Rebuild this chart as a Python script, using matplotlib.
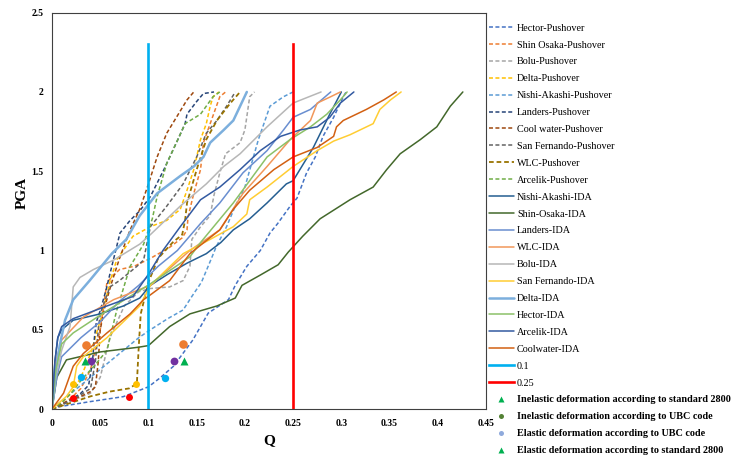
import numpy as np
import matplotlib
matplotlib.use("Agg")
import matplotlib.pyplot as plt
from matplotlib.lines import Line2D

plt.rcParams['font.family'] = ['Liberation Serif', 'DejaVu Serif']

# ---------------- data ----------------
hector_po_q   = [0, 0.008, 0.039, 0.074, 0.10, 0.112, 0.126, 0.146, 0.162, 0.183, 0.19, 0.202, 0.216, 0.226, 0.234, 0.247, 0.254, 0.264, 0.273, 0.281, 0.292, 0.302, 0.305]
hector_po_pga = [0, 0.015, 0.046, 0.078, 0.14, 0.196, 0.27, 0.435, 0.605, 0.69, 0.78, 0.90, 1.0, 1.11, 1.17, 1.28, 1.33, 1.49, 1.59, 1.72, 1.84, 1.97, 2.0]

shinosaka_po_q   = [0, 0.01, 0.02, 0.03, 0.04, 0.05, 0.057, 0.07, 0.085, 0.102, 0.122, 0.135, 0.14, 0.141, 0.147, 0.154, 0.157, 0.164, 0.174, 0.18]
shinosaka_po_pga = [0, 0.03, 0.07, 0.13, 0.25, 0.5, 0.8, 0.88, 0.9, 0.95, 1.02, 1.08, 1.13, 1.21, 1.36, 1.51, 1.68, 1.80, 1.97, 2.0]

bolu_po_q   = [0, 0.02, 0.04, 0.05, 0.06, 0.075, 0.09, 0.102, 0.122, 0.136, 0.143, 0.145, 0.154, 0.164, 0.168, 0.174, 0.18, 0.195, 0.2, 0.205, 0.21]
bolu_po_pga = [0, 0.05, 0.1, 0.2, 0.45, 0.65, 0.74, 0.76, 0.77, 0.81, 0.9, 1.07, 1.15, 1.22, 1.35, 1.49, 1.61, 1.68, 1.76, 1.97, 2.0]

delta_po_q   = [0, 0.01, 0.02, 0.03, 0.04, 0.053, 0.06, 0.067, 0.084, 0.102, 0.119, 0.133, 0.14, 0.147, 0.15, 0.154, 0.16, 0.164, 0.167, 0.173]
delta_po_pga = [0, 0.04, 0.1, 0.2, 0.35, 0.62, 0.8, 0.94, 1.09, 1.15, 1.19, 1.26, 1.38, 1.51, 1.59, 1.70, 1.80, 1.91, 1.97, 2.0]

nishi_po_q   = [0, 0.02, 0.04, 0.06, 0.074, 0.09, 0.102, 0.12, 0.136, 0.145, 0.155, 0.166, 0.17, 0.181, 0.19, 0.2, 0.207, 0.214, 0.226, 0.24, 0.25]
nishi_po_pga = [0, 0.1, 0.2, 0.3, 0.37, 0.45, 0.5, 0.57, 0.625, 0.71, 0.8, 0.96, 1.02, 1.15, 1.28, 1.4, 1.55, 1.70, 1.91, 1.97, 2.0]

landers_po_q   = [0, 0.01, 0.02, 0.03, 0.038, 0.042, 0.044, 0.046, 0.05, 0.056, 0.062, 0.0705, 0.081, 0.091, 0.102, 0.116, 0.129, 0.138, 0.14, 0.15, 0.157, 0.168]
landers_po_pga = [0, 0.03, 0.06, 0.1, 0.15, 0.3, 0.45, 0.55, 0.62, 0.75, 0.9, 1.11, 1.19, 1.25, 1.34, 1.51, 1.68, 1.80, 1.86, 1.94, 1.99, 2.0]

coolwater_po_q   = [0, 0.01, 0.02, 0.03, 0.04, 0.045, 0.048, 0.05, 0.055, 0.062, 0.07, 0.081, 0.091, 0.1, 0.109, 0.119, 0.129, 0.14, 0.147]
coolwater_po_pga = [0, 0.03, 0.06, 0.08, 0.11, 0.14, 0.3, 0.5, 0.65, 0.8, 0.95, 1.13, 1.26, 1.42, 1.59, 1.74, 1.84, 1.95, 2.0]

sanfernando_po_q   = [0, 0.015, 0.03, 0.04, 0.045, 0.048, 0.05, 0.06, 0.07, 0.088, 0.095, 0.102, 0.119, 0.136, 0.15, 0.16, 0.171, 0.181, 0.19]
sanfernando_po_pga = [0, 0.04, 0.09, 0.13, 0.3, 0.5, 0.6, 0.77, 0.81, 0.90, 0.94, 1.15, 1.28, 1.42, 1.59, 1.74, 1.82, 1.91, 2.0]

wlc_po_q   = [0, 0.02, 0.04, 0.06, 0.08, 0.088, 0.09, 0.092, 0.1, 0.11, 0.125, 0.135, 0.138, 0.14, 0.15, 0.16, 0.171, 0.185, 0.195]
wlc_po_pga = [0, 0.04, 0.08, 0.11, 0.13, 0.16, 0.4, 0.6, 0.8, 0.95, 1.05, 1.1, 1.19, 1.3, 1.51, 1.70, 1.82, 1.93, 2.0]

arcelik_po_q   = [0, 0.01, 0.02, 0.03, 0.045, 0.057, 0.067, 0.081, 0.095, 0.104, 0.109, 0.119, 0.129, 0.138, 0.154, 0.167, 0.174]
arcelik_po_pga = [0, 0.04, 0.1, 0.18, 0.28, 0.37, 0.62, 0.90, 1.04, 1.2, 1.34, 1.55, 1.68, 1.80, 1.86, 1.97, 2.0]

nishi_ida_q   = [0, 0.003, 0.006, 0.01, 0.022, 0.05, 0.074, 0.091, 0.102, 0.12, 0.14, 0.16, 0.175, 0.188, 0.205, 0.223, 0.243, 0.25, 0.271, 0.288, 0.30]
nishi_ida_pga = [0, 0.3, 0.45, 0.5, 0.56, 0.6, 0.65, 0.7, 0.78, 0.85, 0.92, 0.98, 1.05, 1.13, 1.2, 1.30, 1.42, 1.44, 1.65, 1.86, 2.0]

shinosaka_ida_q   = [0, 0.005, 0.015, 0.05, 0.09, 0.1, 0.122, 0.143, 0.171, 0.19, 0.197, 0.216, 0.2345, 0.245, 0.26, 0.278, 0.309, 0.333, 0.347, 0.361, 0.382, 0.399, 0.413, 0.426]
shinosaka_ida_pga = [0, 0.2, 0.31, 0.36, 0.39, 0.40, 0.52, 0.60, 0.65, 0.70, 0.78, 0.845, 0.91, 0.99, 1.09, 1.2, 1.32, 1.40, 1.51, 1.61, 1.70, 1.78, 1.91, 2.0]

landers_ida_q   = [0, 0.005, 0.01, 0.03, 0.05, 0.07, 0.09, 0.11, 0.13, 0.154, 0.174, 0.198, 0.223, 0.24, 0.25, 0.268, 0.289]
landers_ida_pga = [0, 0.2, 0.33, 0.45, 0.55, 0.68, 0.78, 0.9, 1.0, 1.17, 1.30, 1.49, 1.63, 1.76, 1.84, 1.89, 2.0]

wlc_ida_q   = [0, 0.004, 0.01, 0.0325, 0.064, 0.102, 0.143, 0.174, 0.198, 0.223, 0.247, 0.268, 0.275, 0.289, 0.299]
wlc_ida_pga = [0, 0.3, 0.435, 0.58, 0.69, 0.78, 1.0, 1.13, 1.36, 1.53, 1.70, 1.82, 1.93, 1.97, 2.0]

bolu_ida_q   = [0, 0.004, 0.01, 0.0187, 0.022, 0.029, 0.043, 0.064, 0.091, 0.102, 0.133, 0.16, 0.178, 0.195, 0.223, 0.25, 0.279]
bolu_ida_pga = [0, 0.2, 0.37, 0.52, 0.77, 0.83, 0.88, 0.94, 1.04, 1.1, 1.28, 1.42, 1.53, 1.61, 1.78, 1.93, 2.0]

sanfernando_ida_q   = [0, 0.015, 0.022, 0.0256, 0.0325, 0.057, 0.091, 0.102, 0.136, 0.164, 0.188, 0.202, 0.205, 0.223, 0.25, 0.275, 0.292, 0.309, 0.333, 0.34, 0.351, 0.362]
sanfernando_ida_pga = [0, 0.08, 0.14, 0.27, 0.33, 0.45, 0.65, 0.78, 0.98, 1.07, 1.15, 1.23, 1.32, 1.40, 1.53, 1.63, 1.69, 1.73, 1.80, 1.89, 1.95, 2.0]

delta_ida_q   = [0, 0.004, 0.008, 0.0135, 0.022, 0.039, 0.062, 0.077, 0.091, 0.109, 0.133, 0.147, 0.157, 0.164, 0.178, 0.188, 0.195, 0.202]
delta_ida_pga = [0, 0.25, 0.4, 0.56, 0.69, 0.81, 0.98, 1.07, 1.22, 1.36, 1.47, 1.53, 1.59, 1.68, 1.76, 1.82, 1.91, 2.0]

hector_ida_q   = [0, 0.004, 0.01, 0.022, 0.057, 0.102, 0.143, 0.154, 0.188, 0.223, 0.247, 0.268, 0.285, 0.299, 0.306]
hector_ida_pga = [0, 0.25, 0.41, 0.48, 0.62, 0.79, 0.96, 1.05, 1.30, 1.59, 1.70, 1.78, 1.86, 1.95, 2.0]

arcelik_ida_q   = [0, 0.003, 0.006, 0.01, 0.022, 0.057, 0.084, 0.1, 0.115, 0.133, 0.154, 0.174, 0.195, 0.216, 0.237, 0.257, 0.275, 0.288, 0.299, 0.313]
arcelik_ida_pga = [0, 0.3, 0.45, 0.52, 0.57, 0.65, 0.71, 0.85, 1.0, 1.15, 1.32, 1.40, 1.51, 1.63, 1.72, 1.76, 1.78, 1.84, 1.93, 2.0]

coolwater_ida_q   = [0, 0.012, 0.022, 0.0325, 0.057, 0.081, 0.095, 0.102, 0.122, 0.143, 0.174, 0.188, 0.205, 0.23, 0.25, 0.275, 0.292, 0.295, 0.302, 0.326, 0.344, 0.357]
coolwater_ida_pga = [0, 0.1, 0.27, 0.35, 0.48, 0.6, 0.69, 0.72, 0.81, 0.98, 1.13, 1.26, 1.38, 1.51, 1.59, 1.65, 1.72, 1.78, 1.82, 1.89, 1.95, 2.0]

limit_q = [0.1, 0.25]
limit_labels = ['0.1', '0.25']
limit_top = 2.3

# point markers in plot
orange_pts_q = [0.0353, 0.136]
orange_pts_pga = [0.404, 0.41]
purple_pts_q = [0.040, 0.127]
purple_pts_pga = [0.30, 0.30]
green_tri_q = [0.0346, 0.137]
green_tri_pga = [0.30, 0.30]
cyan_pts_q = [0.0304, 0.117]
cyan_pts_pga = [0.20, 0.196]
yellow_pts_q = [0.022, 0.0868]
yellow_pts_pga = [0.156, 0.156]
red_pts_q = [0.022, 0.0795]
red_pts_pga = [0.071, 0.075]

marker_labels = ['Inelastic deformation according to standard 2800',
                 'Inelastic deformation according to UBC code',
                 'Elastic deformation according to UBC code',
                 'Elastic deformation according to standard 2800']

x_ticks = [0, 0.05, 0.1, 0.15, 0.2, 0.25, 0.3, 0.35, 0.4, 0.45]
x_tick_labels = ['0', '0.05', '0.1', '0.15', '0.2', '0.25', '0.3', '0.35', '0.4', '0.45']
y_ticks = [0, 0.5, 1, 1.5, 2, 2.5]
y_tick_labels = ['0', '0.5', '1', '1.5', '2', '2.5']

# ---------------- styles ----------------
series = [
    ('Hector-Pushover', hector_po_q, hector_po_pga, '#4472C4', True, 1.1),
    ('Shin Osaka-Pushover', shinosaka_po_q, shinosaka_po_pga, '#ED7D31', True, 1.1),
    ('Bolu-Pushover', bolu_po_q, bolu_po_pga, '#A5A5A5', True, 1.1),
    ('Delta-Pushover', delta_po_q, delta_po_pga, '#FFC000', True, 1.1),
    ('Nishi-Akashi-Pushover', nishi_po_q, nishi_po_pga, '#5B9BD5', True, 1.1),
    ('Landers-Pushover', landers_po_q, landers_po_pga, '#264478', True, 1.1),
    ('Cool water-Pushover', coolwater_po_q, coolwater_po_pga, '#9E480E', True, 1.1),
    ('San Fernando-Pushover', sanfernando_po_q, sanfernando_po_pga, '#636363', True, 1.1),
    ('WLC-Pushover', wlc_po_q, wlc_po_pga, '#997300', True, 1.3),
    ('Arcelik-Pushover', arcelik_po_q, arcelik_po_pga, '#70AD47', True, 1.1),
    ('Nishi-Akashi-IDA', nishi_ida_q, nishi_ida_pga, '#255E91', False, 1.1),
    ('Shin-Osaka-IDA', shinosaka_ida_q, shinosaka_ida_pga, '#43682B', False, 1.1),
    ('Landers-IDA', landers_ida_q, landers_ida_pga, '#698ED0', False, 1.1),
    ('WLC-IDA', wlc_ida_q, wlc_ida_pga, '#F1975A', False, 1.1),
    ('Bolu-IDA', bolu_ida_q, bolu_ida_pga, '#B7B7B7', False, 1.1),
    ('San Fernando-IDA', sanfernando_ida_q, sanfernando_ida_pga, '#FFCD33', False, 1.1),
    ('Delta-IDA', delta_ida_q, delta_ida_pga, '#7CAFDD', False, 1.8),
    ('Hector-IDA', hector_ida_q, hector_ida_pga, '#8CC168', False, 1.1),
    ('Arcelik-IDA', arcelik_ida_q, arcelik_ida_pga, '#335AA1', False, 1.1),
    ('Coolwater-IDA', coolwater_ida_q, coolwater_ida_pga, '#D26012', False, 1.1),
]
limit_colors = ['#00B0F0', '#FF0000']

fig = plt.figure(figsize=(7.35, 4.61), dpi=100)
ax = fig.add_axes([52/735, 1-409/461, (486-52)/735, (409-12.7)/461])

handles = []
for name, q, p, c, dashed, lw in series:
    ln, = ax.plot(q, p, color=c, lw=lw, label=name,
                  dashes=(2.6, 1.6) if dashed else (None, None),
                  solid_capstyle='round', dash_capstyle='butt')
    handles.append(ln)

for xv, lab, c in zip(limit_q, limit_labels, limit_colors):
    ln, = ax.plot([xv, xv], [0, limit_top], color=c, lw=1.9, label=lab)
    handles.append(ln)

ax.plot(orange_pts_q, orange_pts_pga, 'o', color='#ED7D31', ms=6.2, mec='none', zorder=5)
ax.plot(purple_pts_q, purple_pts_pga, 'o', color='#7030A0', ms=5.6, mec='none', zorder=5)
ax.plot(green_tri_q, green_tri_pga, '^', color='#00B050', ms=5.8, mec='none', zorder=5)
ax.plot(cyan_pts_q, cyan_pts_pga, 'o', color='#00B0F0', ms=5.3, mec='none', zorder=5)
ax.plot(yellow_pts_q, yellow_pts_pga, 'o', color='#FFC000', ms=5.0, mec='none', zorder=5)
ax.plot(red_pts_q, red_pts_pga, 'o', color='#FF0000', ms=5.0, mec='none', zorder=5)

proxy_styles = [('^', '#00B050', 5.0), ('o', '#548235', 3.6), ('o', '#8FAADC', 3.6), ('^', '#00B050', 5.0)]
for lab, (m, c, s) in zip(marker_labels, proxy_styles):
    handles.append(Line2D([], [], ls='none', marker=m, color=c, ms=s, mec='none', label=lab))

ax.set_xlim(0, 0.45)
ax.set_ylim(0, 2.5)
ax.set_xticks(x_ticks)
ax.set_xticklabels(x_tick_labels, fontsize=7, fontweight='bold')
ax.set_yticks(y_ticks)
ax.set_yticklabels(y_tick_labels, fontsize=7, fontweight='bold')
ax.tick_params(length=0)
ax.tick_params(axis='x', pad=7)
ax.tick_params(axis='y', pad=6)
for s in ax.spines.values():
    s.set_color('#404040')
    s.set_linewidth(0.8)

ax.set_xlabel('Q', fontsize=11, fontweight='bold')
ax.set_ylabel('PGA', fontsize=11, fontweight='bold')
ax.xaxis.set_label_coords(0.5, -0.063)
ax.yaxis.set_label_coords(-0.054, 0.545)

leg = fig.legend(handles=handles, loc='upper left', bbox_to_anchor=(489/735, 1-23.5/461),
                 frameon=False, fontsize=7.3, handlelength=2.45, handletextpad=0.3,
                 labelspacing=0.77, borderpad=0, borderaxespad=0)
for t in leg.get_texts()[-4:]:
    t.set_fontweight('bold')

fig.savefig('out.png', dpi=100)
